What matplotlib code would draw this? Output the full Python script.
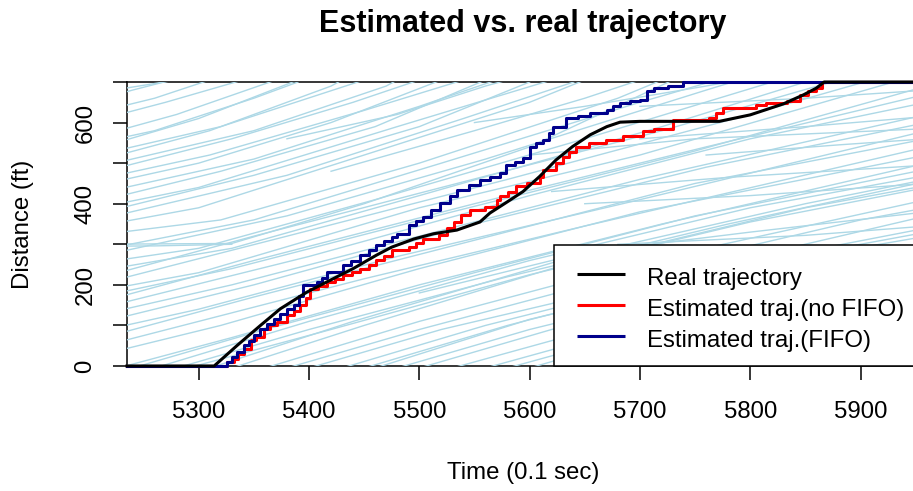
import matplotlib
matplotlib.use("Agg")
import matplotlib.pyplot as plt
from matplotlib.patches import Rectangle

plt.rcParams['font.family'] = ['Liberation Sans', 'DejaVu Sans']

# ---------------- data ----------------
title = "Estimated vs. real trajectory"
xlabel = "Time (0.1 sec)"
ylabel = "Distance (ft)"
x_ticks = [5300, 5400, 5500, 5600, 5700, 5800, 5900]
y_ticks = [0, 100, 200, 300, 400, 500, 600, 700]
y_ticklabels = ["0", "", "200", "", "400", "", "600", ""]
xlim = (5235, 5953)
ylim = (0, 700)

legend_labels = ["Real trajectory", "Estimated traj.(no FIFO)", "Estimated traj.(FIFO)"]
colors = {"real": "black", "nofifo": "#FF0000", "fifo": "#00008B", "bg": "#ADD8E6"}

real_t = [5235, 5314, 5335, 5356, 5374, 5398, 5416, 5440, 5461, 5475, 5495, 5513, 5534,
          5555, 5564, 5580, 5594, 5609, 5624, 5639, 5655, 5670, 5682, 5700, 5772, 5800,
          5830, 5848, 5860, 5867, 5960]
real_d = [0, 0, 51, 100, 141, 182, 207, 240, 273, 293, 313, 326, 335,
          355, 377, 405, 430, 467, 508, 541, 570, 590, 601, 603, 603, 619,
          646, 668, 685, 700, 700]

nofifo_t = [5235, 5321, 5326, 5332, 5336, 5341, 5347, 5352, 5359, 5365, 5371, 5380, 5386,
            5392, 5397, 5401, 5408, 5416, 5424, 5431, 5439, 5446, 5454, 5461, 5468, 5475,
            5491, 5497, 5503, 5518, 5525, 5531, 5538, 5546, 5560, 5570, 5573, 5580, 5588,
            5598, 5609, 5612, 5624, 5630, 5636, 5642, 5654, 5669, 5685, 5703, 5713, 5729,
            5730, 5763, 5769, 5775, 5805, 5814, 5833, 5845, 5852, 5860, 5865, 5960]
nofifo_d = [0, 0, 10, 18, 30, 43, 63, 72, 92, 100, 108, 125, 136,
            150, 168, 191, 198, 207, 214, 224, 231, 240, 250, 261, 272, 285,
            293, 303, 314, 322, 339, 355, 372, 385, 392, 410, 418, 430, 443,
            452, 467, 483, 500, 515, 528, 541, 549, 558, 566, 578, 584, 584,
            607, 611, 623, 636, 644, 649, 652, 668, 677, 685, 700, 700]

fifo_t = [5235, 5316, 5326, 5330, 5335, 5341, 5346, 5350, 5356, 5362, 5368, 5374, 5380,
          5386, 5391, 5395, 5407, 5412, 5416, 5431, 5438, 5446, 5454, 5461, 5468, 5475,
          5480, 5491, 5497, 5503, 5511, 5519, 5528, 5534, 5545, 5555, 5564, 5573, 5579,
          5587, 5594, 5600, 5606, 5612, 5618, 5621, 5633, 5644, 5655, 5670, 5676, 5682,
          5691, 5700, 5706, 5713, 5725, 5739, 5960]
fifo_d = [0, 0, 10, 22, 35, 51, 62, 76, 92, 104, 117, 128, 141,
          150, 172, 199, 207, 218, 232, 248, 260, 273, 286, 298, 308, 318,
          325, 348, 358, 368, 384, 401, 418, 434, 446, 459, 466, 475, 496,
          503, 512, 541, 549, 557, 574, 590, 611, 617, 623, 631, 640, 648,
          652, 656, 677, 685, 690, 700, 700]

# background (other vehicles' trajectories): (time list, distance list)
bg_t = [
    [5200, 5250], [5200, 5240, 5290], [5200, 5260, 5310], [5200, 5280, 5370],
    [5200, 5300, 5390], [5200, 5310, 5420, 5430], [5200, 5330, 5440, 5500],
    [5200, 5300, 5420, 5520], [5200, 5320, 5460, 5560], [5200, 5350, 5500, 5600],
    [5200, 5300, 5450, 5600, 5650], [5200, 5330, 5450, 5600, 5730],
    [5200, 5350, 5520, 5700, 5770], [5200, 5300, 5460, 5650, 5820],
    [5200, 5350, 5520, 5720, 5880], [5200, 5300, 5500, 5700, 5930],
    [5200, 5350, 5550, 5760, 5960], [5200, 5330, 5500, 5700, 5960],
    [5200, 5300, 5480, 5700, 5960], [5200, 5300, 5450, 5650, 5960],
    [5220, 5330, 5500, 5720, 5960], [5260, 5400, 5600, 5800, 5960],
    [5290, 5420, 5600, 5800, 5960], [5330, 5450, 5620, 5850, 5960],
    [5360, 5500, 5700, 5960], [5400, 5520, 5700, 5960], [5430, 5560, 5750, 5960],
    [5460, 5600, 5800, 5960], [5500, 5620, 5800, 5960], [5530, 5650, 5850, 5960],
    [5560, 5700, 5850, 5960], [5600, 5720, 5900, 5960], [5630, 5760, 5960],
    [5670, 5800, 5960], [5710, 5830, 5960], [5750, 5860, 5960], [5790, 5900, 5960],
    [5830, 5960], [5870, 5960], [5910, 5960],
    [5620, 5780, 5960], [5680, 5850, 5960], [5700, 5850, 5960], [5760, 5880, 5960],
    [5200, 5260, 5330], [5500, 5650, 5800, 5960], [5550, 5650, 5760, 5790],
    [5380, 5480, 5560, 5580], [5420, 5550, 5650, 5700],
    [5200, 5280], [5200, 5270, 5340], [5200, 5260, 5350, 5390], [5200, 5320, 5450],
    [5200, 5350, 5470, 5480], [5200, 5310, 5450, 5540], [5200, 5350, 5500, 5570],
    [5200, 5300, 5480, 5620], [5200, 5380, 5540, 5640], [5200, 5320, 5500, 5680, 5720],
    [5200, 5380, 5560, 5760, 5790], [5200, 5330, 5500, 5720, 5850],
    [5200, 5380, 5580, 5800, 5910], [5200, 5330, 5530, 5750, 5960],
    [5200, 5400, 5600, 5800, 5960], [5200, 5350, 5550, 5760, 5960],
    [5200, 5350, 5550, 5750, 5960], [5200, 5320, 5500, 5700, 5960],
    [5240, 5360, 5550, 5750, 5960], [5280, 5400, 5580, 5780, 5960],
    [5310, 5440, 5640, 5850, 5960], [5380, 5500, 5680, 5900, 5960],
    [5450, 5580, 5780, 5960], [5480, 5600, 5780, 5960], [5580, 5700, 5880, 5960],
    [5650, 5780, 5960], [5690, 5800, 5960], [5730, 5850, 5960], [5770, 5880, 5960],
    [5850, 5960], [5890, 5960], [5930, 5960],
    [5650, 5800, 5960], [5720, 5850, 5960], [5600, 5750, 5960], [5700, 5850, 5960],
]
bg_d = [
    [690, 720], [650, 680, 715], [620, 660, 705], [560, 620, 705],
    [530, 610, 705], [500, 580, 690, 705], [470, 560, 650, 705],
    [440, 500, 600, 705], [400, 480, 590, 705], [370, 470, 590, 700],
    [340, 390, 520, 650, 705], [300, 302, 400, 540, 705],
    [280, 360, 500, 650, 705], [250, 290, 410, 560, 700],
    [210, 320, 440, 580, 705], [180, 230, 390, 520, 700],
    [150, 260, 400, 540, 670], [120, 200, 320, 460, 620],
    [80, 140, 270, 410, 580], [40, 110, 215, 345, 540],
    [-10, 70, 200, 350, 500], [-5, 110, 260, 390, 470],
    [-5, 90, 225, 355, 440], [-5, 100, 240, 390, 445],
    [-5, 110, 255, 410], [-5, 90, 205, 370], [-5, 100, 230, 340],
    [-5, 115, 245, 320], [-5, 90, 205, 295], [-5, 85, 230, 280],
    [-5, 100, 190, 255], [-5, 90, 200, 230], [-5, 95, 195],
    [-5, 85, 165], [-5, 75, 140], [-5, 65, 115], [-5, 60, 95],
    [-5, 70], [-5, 45], [-5, 25],
    [430, 465, 495], [300, 322, 345], [560, 590, 615], [520, 545, 560],
    [295, 296, 300], [180, 280, 330, 380], [600, 640, 690, 705],
    [560, 620, 690, 705], [480, 580, 660, 705],
    [670, 705], [600, 650, 705], [545, 580, 660, 700], [515, 590, 705],
    [485, 580, 690, 705], [455, 520, 630, 705], [420, 510, 640, 705],
    [385, 440, 590, 705], [355, 470, 610, 700], [320, 360, 500, 660, 705],
    [265, 370, 510, 680, 705], [230, 290, 420, 590, 700],
    [195, 320, 460, 620, 705], [165, 240, 380, 530, 690],
    [135, 270, 420, 560, 650], [100, 200, 350, 490, 600],
    [60, 170, 310, 450, 560], [20, 100, 240, 380, 520],
    [-5, 90, 230, 370, 485], [-5, 90, 220, 350, 455],
    [-5, 110, 270, 400, 460], [-5, 90, 220, 360, 390],
    [-5, 100, 240, 330], [-5, 90, 210, 300], [-5, 85, 200, 240],
    [-5, 90, 180], [-5, 60, 150], [-5, 70, 125], [-5, 60, 100],
    [-5, 55], [-5, 35], [-5, 15],
    [400, 420, 450], [250, 270, 290], [520, 560, 585], [640, 660, 680],
]

# ---------------- figure ----------------
W, H = 913, 491
fig = plt.figure(figsize=(W / 100, H / 100), dpi=100)
L, R, T, B = 127, 919, 82, 366
ax = fig.add_axes([L / W, (H - B) / H, (R - L) / W, (B - T) / H])

for ts, ds in zip(bg_t, bg_d):
    ax.plot(ts, ds, color=colors["bg"], lw=1.0, zorder=2)

ax.plot(nofifo_t, nofifo_d, color=colors["nofifo"], lw=2.2, drawstyle="steps-post",
        zorder=3, clip_on=False)
ax.plot(fifo_t, fifo_d, color=colors["fifo"], lw=2.2, drawstyle="steps-post",
        zorder=3, clip_on=False)
ax.plot(real_t, real_d, color=colors["real"], lw=2.2, zorder=4, clip_on=False)

ax.set_xlim(*xlim)
ax.set_ylim(*ylim)
ax.set_xticks(x_ticks)
ax.set_yticks(y_ticks)
ax.set_yticklabels(y_ticklabels)
fs = 17.3
ax.tick_params(axis="both", direction="out", length=10.4, width=1.1, labelsize=fs, color="black")
ax.tick_params(axis="x", pad=15)
ax.tick_params(axis="y", pad=11.5)
for lab in ax.get_yticklabels():
    lab.set_rotation(90)
    lab.set_va("center")
    lab.set_ha("right")
for sp in ax.spines.values():
    sp.set_linewidth(1.1)
    sp.set_zorder(1.5)
ax.spines["right"].set_visible(False)

# legend (bottom-right, R style)
ax.add_patch(Rectangle((0.5391, 0.0), 0.6, 0.4261, transform=ax.transAxes,
                       facecolor="white", edgecolor="black", lw=1.1, zorder=5, clip_on=False))
rows = [0.3239, 0.2148, 0.1056]
bases = [0.2852, 0.1761, 0.0669]
for lab, key, ry, by in zip(legend_labels, ["real", "nofifo", "fifo"], rows, bases):
    ax.plot([0.5682, 0.6288], [ry, ry], transform=ax.transAxes, color=colors[key],
            lw=2.2, zorder=6, clip_on=False, solid_capstyle="butt")
    ax.text(0.6566, by, lab, transform=ax.transAxes, fontsize=fs, va="baseline",
            ha="left", zorder=6)

fig.text(523 / W, 1 - 32 / H, title, ha="center", va="baseline", fontsize=22, weight="bold")
fig.text(523 / W, 1 - 473 / H, xlabel, ha="center", va="center", fontsize=fs)
fig.text(23 / W, 1 - 224 / H, ylabel, ha="center", va="center", fontsize=fs, rotation=90)

fig.savefig("out.png", dpi=100)
